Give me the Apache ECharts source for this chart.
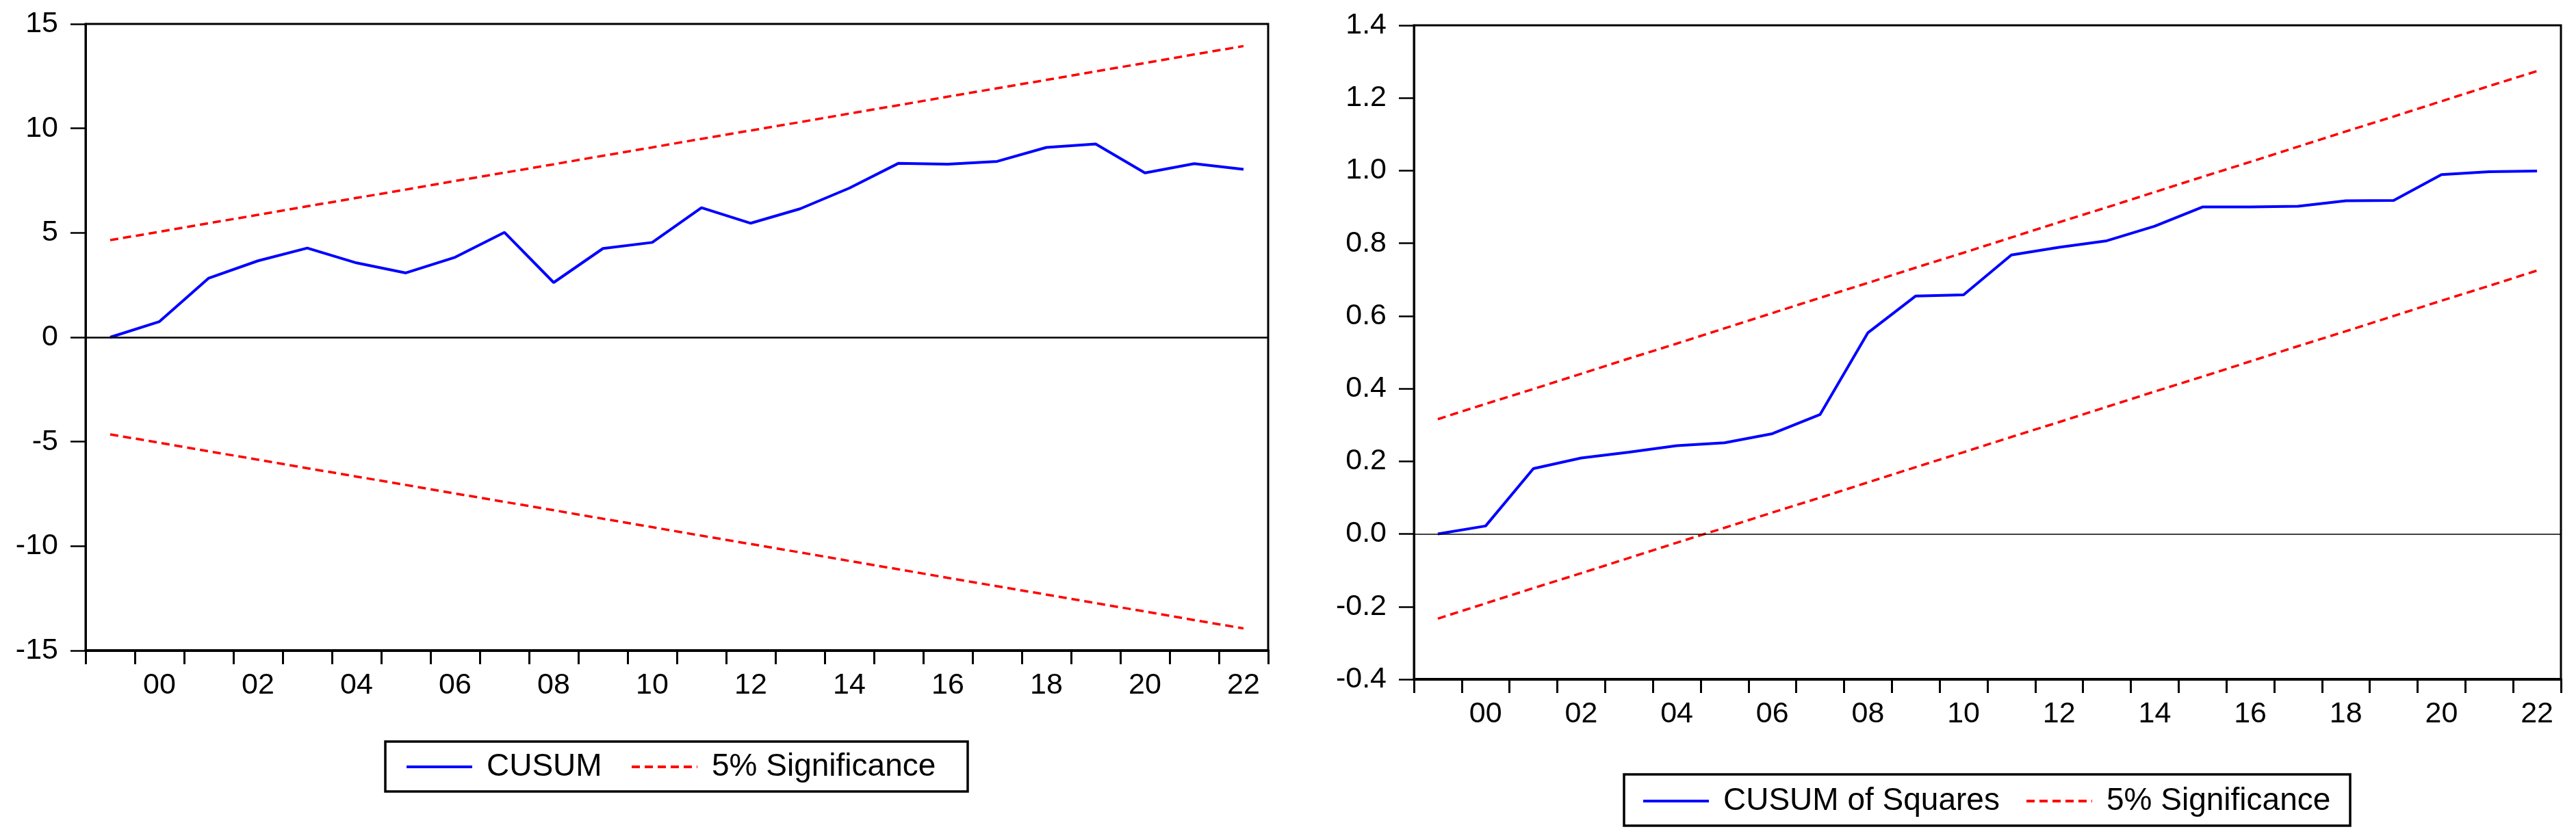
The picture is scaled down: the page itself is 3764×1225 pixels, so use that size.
<!DOCTYPE html>
<html>
<head>
<meta charset="utf-8">
<script src="https://cdn.jsdelivr.net/npm/echarts@6/dist/echarts.min.js"></script>
<style>
  html, body { margin: 0; padding: 0; background: #fff; }
  #main { width: 3764px; height: 1225px; }
</style>
</head>
<body>
<div id="main"></div>
<script>
// years on the x axis (labels show every other one as 2 digits)
const years = ['1999', '2000', '2001', '2002', '2003', '2004', '2005', '2006',
  '2007', '2008', '2009', '2010', '2011', '2012', '2013', '2014', '2015',
  '2016', '2017', '2018', '2019', '2020', '2021', '2022'];

// left panel: CUSUM and its 5% bands
const cusum = [0, 0.75, 2.83, 3.66, 4.27, 3.56, 3.08, 3.83, 5.02, 2.62, 4.25,
  4.54, 6.20, 5.46, 6.15, 7.14, 8.33, 8.29, 8.42, 9.09, 9.25, 7.87, 8.31, 8.04];
const cusumUpper = [4.65, 5.05, 5.46, 5.86, 6.27, 6.67, 7.07, 7.48, 7.88, 8.28,
  8.69, 9.09, 9.50, 9.90, 10.30, 10.71, 11.11, 11.52, 11.92, 12.32, 12.73,
  13.13, 13.54, 13.94];
const cusumLower = [-4.65, -5.05, -5.46, -5.86, -6.27, -6.67, -7.07, -7.48,
  -7.88, -8.28, -8.69, -9.09, -9.50, -9.90, -10.30, -10.71, -11.11, -11.52,
  -11.92, -12.32, -12.73, -13.13, -13.54, -13.94];

// right panel: CUSUM of squares and its 5% bands
const cusumSq = [0, 0.022, 0.180, 0.209, 0.225, 0.243, 0.251, 0.276, 0.329,
  0.554, 0.655, 0.658, 0.768, 0.789, 0.807, 0.847, 0.900, 0.900, 0.902, 0.917,
  0.918, 0.989, 0.997, 0.999];
const sqUpper = [0.316, 0.358, 0.399, 0.441, 0.483, 0.524, 0.566, 0.608, 0.650,
  0.691, 0.733, 0.774, 0.816, 0.858, 0.899, 0.941, 0.983, 1.024, 1.066, 1.108,
  1.149, 1.191, 1.233, 1.274];
const sqLower = [-0.233, -0.191, -0.149, -0.108, -0.066, -0.024, 0.017, 0.059,
  0.100, 0.142, 0.184, 0.225, 0.267, 0.308, 0.350, 0.392, 0.433, 0.475, 0.517,
  0.558, 0.600, 0.642, 0.683, 0.725];

const FONT = 'Liberation Sans, Arial, sans-serif';
const BLUE = '#0000ff';
const RED = '#ff0000';
const DASH = [12, 7];

const chart = echarts.init(document.getElementById('main'));

function xAxisFor(grid) {
  return {
    type: 'category',
    gridIndex: grid,
    data: years,
    boundaryGap: true,
    axisLine: { show: true, onZero: false, lineStyle: { color: '#000', width: 4 } },
    axisTick: { show: true, interval: 0, length: 20, lineStyle: { color: '#000', width: 3 } },
    axisLabel: {
      interval: function (i) { return i % 2 === 1; },
      formatter: function (v) { return v.slice(2); },
      color: '#000', fontFamily: FONT, fontSize: 43, margin: 30
    },
    splitLine: { show: false }
  };
}

function yAxisFor(grid, min, max, step, digits) {
  return {
    type: 'value',
    gridIndex: grid,
    min: min, max: max, interval: step,
    axisLine: { show: true, onZero: false, lineStyle: { color: '#000', width: 3 } },
    axisTick: { show: true, length: 22, lineStyle: { color: '#000', width: 2.5 } },
    axisLabel: {
      formatter: function (v) { return v.toFixed(digits); },
      color: '#000', fontFamily: FONT, fontSize: 43, margin: 40
    },
    splitLine: { show: false }
  };
}

function zeroLine(w) {
  return {
    silent: true,
    symbol: ['none', 'none'],
    label: { show: false },
    lineStyle: { color: '#000', width: w, type: 'solid' },
    data: [{ yAxis: 0 }]
  };
}

function band(name, data, idx) {
  return {
    name: name, type: 'line', xAxisIndex: idx, yAxisIndex: idx,
    data: data, symbol: 'none', showSymbol: false,
    lineStyle: { color: RED, width: 3.5, type: DASH },
    itemStyle: { color: RED }
  };
}

function legendAt(name, x, y, color, dashed) {
  return {
    data: [name], left: x, top: y,
    itemWidth: 96, itemHeight: 46, padding: 0, selectedMode: false,
    itemStyle: { opacity: 0, borderWidth: 0 },
    lineStyle: { color: color, width: 4, type: dashed ? DASH : 'solid' },
    textStyle: { color: '#000', fontFamily: FONT, fontSize: 46, padding: [0, 0, 0, 16] }
  };
}

chart.setOption({
  animation: false,
  backgroundColor: '#fff',
  grid: [
    { left: 125, top: 35, width: 1728, height: 916, show: true, borderColor: '#000', borderWidth: 3, containLabel: false },
    { left: 2066, top: 37, width: 1676, height: 956, show: true, borderColor: '#000', borderWidth: 3, containLabel: false }
  ],
  xAxis: [xAxisFor(0), xAxisFor(1)],
  yAxis: [yAxisFor(0, -15, 15, 5, 0), yAxisFor(1, -0.4, 1.4, 0.2, 1)],
  legend: [
    legendAt('CUSUM', 592, 1098, BLUE, false),
    legendAt('5% Significance', 921, 1098, RED, true),
    legendAt('CUSUM of Squares', 2399, 1148, BLUE, false),
    legendAt('5% Significance', 2959, 1148, RED, true)
  ],
  graphic: [
    { type: 'rect', shape: { x: 563, y: 1084, width: 851, height: 73 }, style: { fill: 'none', stroke: '#000', lineWidth: 3.5 }, z: -1 },
    { type: 'rect', shape: { x: 2373, y: 1132, width: 1061, height: 75 }, style: { fill: 'none', stroke: '#000', lineWidth: 3.5 }, z: -1 }
  ],
  series: [
    {
      name: 'CUSUM', type: 'line', xAxisIndex: 0, yAxisIndex: 0,
      data: cusum, symbol: 'none', showSymbol: false,
      lineStyle: { color: BLUE, width: 4 }, itemStyle: { color: BLUE },
      markLine: zeroLine(2.5)
    },
    band('5% Significance', cusumUpper, 0),
    band('5% Significance', cusumLower, 0),
    {
      name: 'CUSUM of Squares', type: 'line', xAxisIndex: 1, yAxisIndex: 1,
      data: cusumSq, symbol: 'none', showSymbol: false,
      lineStyle: { color: BLUE, width: 4 }, itemStyle: { color: BLUE },
      markLine: zeroLine(1.5)
    },
    band('5% Significance', sqUpper, 1),
    band('5% Significance', sqLower, 1)
  ]
});
</script>
</body>
</html>
